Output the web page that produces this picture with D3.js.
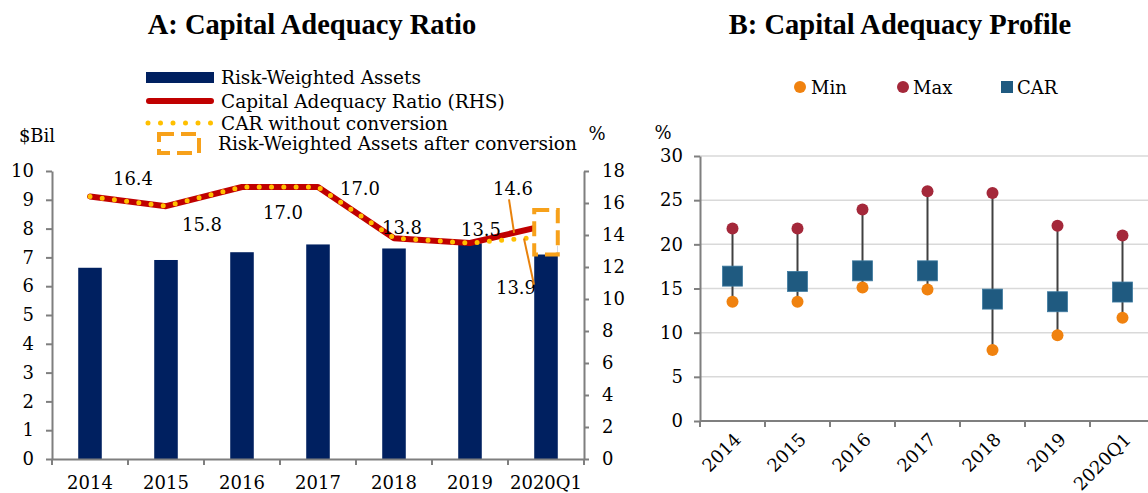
<!DOCTYPE html>
<html><head><meta charset="utf-8">
<script src="https://cdn.jsdelivr.net/npm/d3@7"></script>
<style>
body{margin:0;background:#fff;}
svg{display:block;font-family:"DejaVu Serif",serif;}
</style></head>
<body><svg id="c" width="1148" height="493"></svg>
<script>
// ---------- DATA ----------
const years = ["2014","2015","2016","2017","2018","2019","2020Q1"];
// Panel A
const rwa = [6.64, 6.91, 7.18, 7.45, 7.31, 7.49, 7.4];           // $Bil
const car = [16.4, 15.8, 17.0, 17.0, 13.8, 13.5, 14.6];          // %
const carNoConv = [16.4, 15.8, 17.0, 17.0, 13.8, 13.5, 13.9];    // %
const rwaAfterConvLow = 7.1, rwaAfterConvHigh = 8.65;            // 2020Q1 box
const leftTicks = [0,1,2,3,4,5,6,7,8,9,10];
const rightTicks = [0,2,4,6,8,10,12,14,16,18];
// label offsets (px) relative to each CAR point
const carLabelOffsets = [[43,-18],[36,18],[41,25],[42,1],[8,-11],[11,-14],[-33,-37]];
// Panel B
const carMin = [13.5, 13.5, 15.1, 14.9, 8.05, 9.7, 11.7];
const carMax = [21.8, 21.8, 23.95, 26.0, 25.8, 22.1, 21.0];
const carB   = [16.4, 15.8, 17.0, 17.0, 13.8, 13.5, 14.6];
const bTicks = [0,5,10,15,20,25,30];

// ---------- STYLES ----------
const NAVY="#002060", RED="#C00000", GOLD="#FFC000", ORANGE="#F7A11A", LEAD="#E8820C";
const AXIS="#7F7F7F", FS=18, FONT="DejaVu Serif";
const MINC="#F0820F", MAXC="#A4283A", CARC="#1F5A80";

const svg = d3.select("#c");

// ---------- PANEL A ----------
const xA = d3.scaleBand().domain(years).range([52,584]);
const yL = d3.scaleLinear().domain([0,10]).range([459,171]);
const yR = d3.scaleLinear().domain([0,18]).range([459,171]);
const bw = xA.bandwidth()*0.31;
const cx = d => xA(d)+xA.bandwidth()/2;

svg.append("text").attr("x",312).attr("y",34).attr("text-anchor","middle")
  .attr("font-family","Liberation Serif").attr("font-size",28.5).attr("font-weight","bold")
  .text("A: Capital Adequacy Ratio");

const gA = svg.append("g");
gA.selectAll("rect.bar").data(years).join("rect").attr("class","bar")
  .attr("x",d=>cx(d)-bw/2).attr("width",bw)
  .attr("y",(d,i)=>yL(rwa[i])).attr("height",(d,i)=>yL(0)-yL(rwa[i]))
  .attr("fill",NAVY);

const lineR = d3.line().x((d,i)=>cx(years[i])).y(d=>yR(d));
gA.append("path").attr("d",lineR(car)).attr("fill","none").attr("stroke",RED)
  .attr("stroke-width",6).attr("stroke-linejoin","round").attr("stroke-linecap","round");
gA.append("path").attr("d",lineR(carNoConv)).attr("fill","none").attr("stroke",GOLD)
  .attr("stroke-width",5).attr("stroke-linecap","round").attr("stroke-dasharray","0,12.3");

// after-conversion box (2020Q1)
const last = years[years.length-1];
gA.append("rect").attr("x",cx(last)-bw/2).attr("width",bw)
  .attr("y",yL(rwaAfterConvHigh)).attr("height",yL(rwaAfterConvLow)-yL(rwaAfterConvHigh))
  .attr("fill","#fff").attr("stroke",ORANGE).attr("stroke-width",4).attr("stroke-dasharray","15,7");

// data labels
years.forEach((y,i)=>{
  const px = cx(y), py = yR(car[i]);
  const [dx,dy] = carLabelOffsets[i];
  gA.append("text").attr("x",px+dx).attr("y",py+dy).attr("text-anchor","middle")
    .attr("dominant-baseline","central").attr("font-size",FS).text(car[i].toFixed(1));
});
// 13.9 label for CAR without conversion
const lx = cx(last)-30, ly = yR(carNoConv[6])+51;
gA.append("text").attr("x",lx).attr("y",ly).attr("text-anchor","middle")
  .attr("dominant-baseline","central").attr("font-size",FS).text(carNoConv[6].toFixed(1));
// leader lines
const p19 = cx(years[5]), p20 = cx(last);
const t1 = 0.58, t2 = 0.71;
const lab146 = [p20 + carLabelOffsets[6][0], yR(car[6]) + carLabelOffsets[6][1]];
gA.append("line").attr("x1",lab146[0]-4).attr("y1",lab146[1]+11)
  .attr("x2",p19+t1*(p20-p19)).attr("y2",yR(car[5]+t1*(car[6]-car[5])))
  .attr("stroke",LEAD).attr("stroke-width",2);
gA.append("line").attr("x1",lx+18).attr("y1",ly-3)
  .attr("x2",p19+t2*(p20-p19)).attr("y2",yR(carNoConv[5]+t2*(carNoConv[6]-carNoConv[5])))
  .attr("stroke",LEAD).attr("stroke-width",2);

// axes A
function styleAxis(g){
  g.attr("font-family",FONT);
  g.select(".domain").attr("stroke",AXIS).attr("stroke-width",2);
  g.selectAll(".tick line").attr("stroke",AXIS).attr("stroke-width",2);
  g.selectAll("text").attr("font-size",FS).attr("font-family",FONT).attr("fill","#000");
}
svg.append("g").attr("transform","translate(52,0)")
  .call(d3.axisLeft(yL).tickValues(leftTicks).tickSize(6).tickSizeOuter(0).tickPadding(12))
  .call(styleAxis);
svg.append("g").attr("transform","translate(584,0)")
  .call(d3.axisRight(yR).tickValues(rightTicks).tickSize(5).tickSizeOuter(0).tickPadding(13))
  .call(styleAxis);
const gxA = svg.append("g").attr("transform","translate(0,459)")
  .call(d3.axisBottom(xA).tickSize(0).tickSizeOuter(0).tickPadding(17)).call(styleAxis);
gxA.selectAll(".bline").data(years.concat(["__end"])).join("line").attr("class","bline")
  .attr("x1",d=>d==="__end"?xA.range()[1]:xA(d)).attr("x2",d=>d==="__end"?xA.range()[1]:xA(d))
  .attr("y1",0).attr("y2",6).attr("stroke",AXIS).attr("stroke-width",2);

svg.append("text").attr("x",37).attr("y",135).attr("text-anchor","middle")
  .attr("dominant-baseline","central").attr("font-size",FS).text("$Bil");
svg.append("text").attr("x",597).attr("y",133).attr("text-anchor","middle")
  .attr("dominant-baseline","central").attr("font-size",FS).text("%");

// legend A
const lgA = svg.append("g");
lgA.append("rect").attr("x",146).attr("y",72).attr("width",68).attr("height",11).attr("fill",NAVY);
lgA.append("line").attr("x1",149).attr("x2",211).attr("y1",101).attr("y2",101)
  .attr("stroke",RED).attr("stroke-width",6).attr("stroke-linecap","round");
lgA.append("line").attr("x1",148).attr("x2",213).attr("y1",123).attr("y2",123)
  .attr("stroke",GOLD).attr("stroke-width",5).attr("stroke-linecap","round").attr("stroke-dasharray","0,12.5");
lgA.append("rect").attr("x",159).attr("y",134).attr("width",40).attr("height",19)
  .attr("fill","#fff").attr("stroke",ORANGE).attr("stroke-width",4).attr("stroke-dasharray","15,7");
const lgTexts = [["Risk-Weighted Assets",221,77],["Capital Adequacy Ratio (RHS)",221,101],
  ["CAR without conversion",221,123],["Risk-Weighted Assets after conversion",218,143]];
lgTexts.forEach(([t,x,y])=>lgA.append("text").attr("x",x).attr("y",y)
  .attr("dominant-baseline","central").attr("font-size",18.5).text(t));

// ---------- PANEL B ----------
const xB = d3.scaleBand().domain(years).range([700,1155]);
const yB = d3.scaleLinear().domain([0,30]).range([421,156]);
const cxB = d => xB(d)+xB.bandwidth()/2;

svg.append("text").attr("x",900).attr("y",34).attr("text-anchor","middle")
  .attr("font-family","Liberation Serif").attr("font-size",28.5).attr("font-weight","bold")
  .text("B: Capital Adequacy Profile");

const gB = svg.append("g");
gB.selectAll("line.grid").data(bTicks.slice(1)).join("line").attr("class","grid")
  .attr("x1",700).attr("x2",1155).attr("y1",d=>yB(d)).attr("y2",d=>yB(d))
  .attr("stroke","#D9D9D9").attr("stroke-width",1.5);

gB.selectAll("line.wh").data(years).join("line").attr("class","wh")
  .attr("x1",d=>cxB(d)).attr("x2",d=>cxB(d))
  .attr("y1",(d,i)=>yB(carMin[i])).attr("y2",(d,i)=>yB(carMax[i]))
  .attr("stroke","#404040").attr("stroke-width",2);
gB.selectAll("circle.mn").data(years).join("circle").attr("class","mn")
  .attr("cx",d=>cxB(d)).attr("cy",(d,i)=>yB(carMin[i])).attr("r",6).attr("fill",MINC);
gB.selectAll("circle.mx").data(years).join("circle").attr("class","mx")
  .attr("cx",d=>cxB(d)).attr("cy",(d,i)=>yB(carMax[i])).attr("r",6).attr("fill",MAXC);
gB.selectAll("rect.sq").data(years).join("rect").attr("class","sq")
  .attr("x",d=>cxB(d)-10).attr("y",(d,i)=>yB(carB[i])-10).attr("width",20).attr("height",20)
  .attr("fill",CARC).attr("stroke","#3E7AA0").attr("stroke-width",0.8);

svg.append("g").attr("transform","translate(700,0)")
  .call(d3.axisLeft(yB).tickValues(bTicks).tickSize(6).tickSizeOuter(0).tickPadding(11))
  .call(styleAxis);
const gxB = svg.append("g").attr("transform","translate(0,421)");
gxB.append("line").attr("x1",700).attr("x2",1155).attr("stroke",AXIS).attr("stroke-width",2);
gxB.selectAll(".bline").data(years).join("line").attr("class","bline")
  .attr("x1",d=>xB(d)).attr("x2",d=>xB(d)).attr("y1",0).attr("y2",6)
  .attr("stroke",AXIS).attr("stroke-width",2);
gxB.selectAll("text").data(years).join("text")
  .attr("transform",d=>`translate(${cxB(d)+5},${15}) rotate(-45)`)
  .attr("text-anchor","end").attr("dominant-baseline","central").attr("font-size",18).text(d=>d);

svg.append("text").attr("x",663).attr("y",132).attr("text-anchor","middle")
  .attr("dominant-baseline","central").attr("font-size",FS).text("%");

// legend B
const lgB = svg.append("g");
lgB.append("circle").attr("cx",800).attr("cy",87).attr("r",6).attr("fill",MINC);
lgB.append("circle").attr("cx",903).attr("cy",87).attr("r",6).attr("fill",MAXC);
lgB.append("rect").attr("x",1001).attr("y",81).attr("width",12).attr("height",12).attr("fill",CARC);
[["Min",811],["Max",913],["CAR",1017]].forEach(([t,x])=>lgB.append("text").attr("x",x).attr("y",87)
  .attr("dominant-baseline","central").attr("font-size",FS).text(t));
</script></body></html>
